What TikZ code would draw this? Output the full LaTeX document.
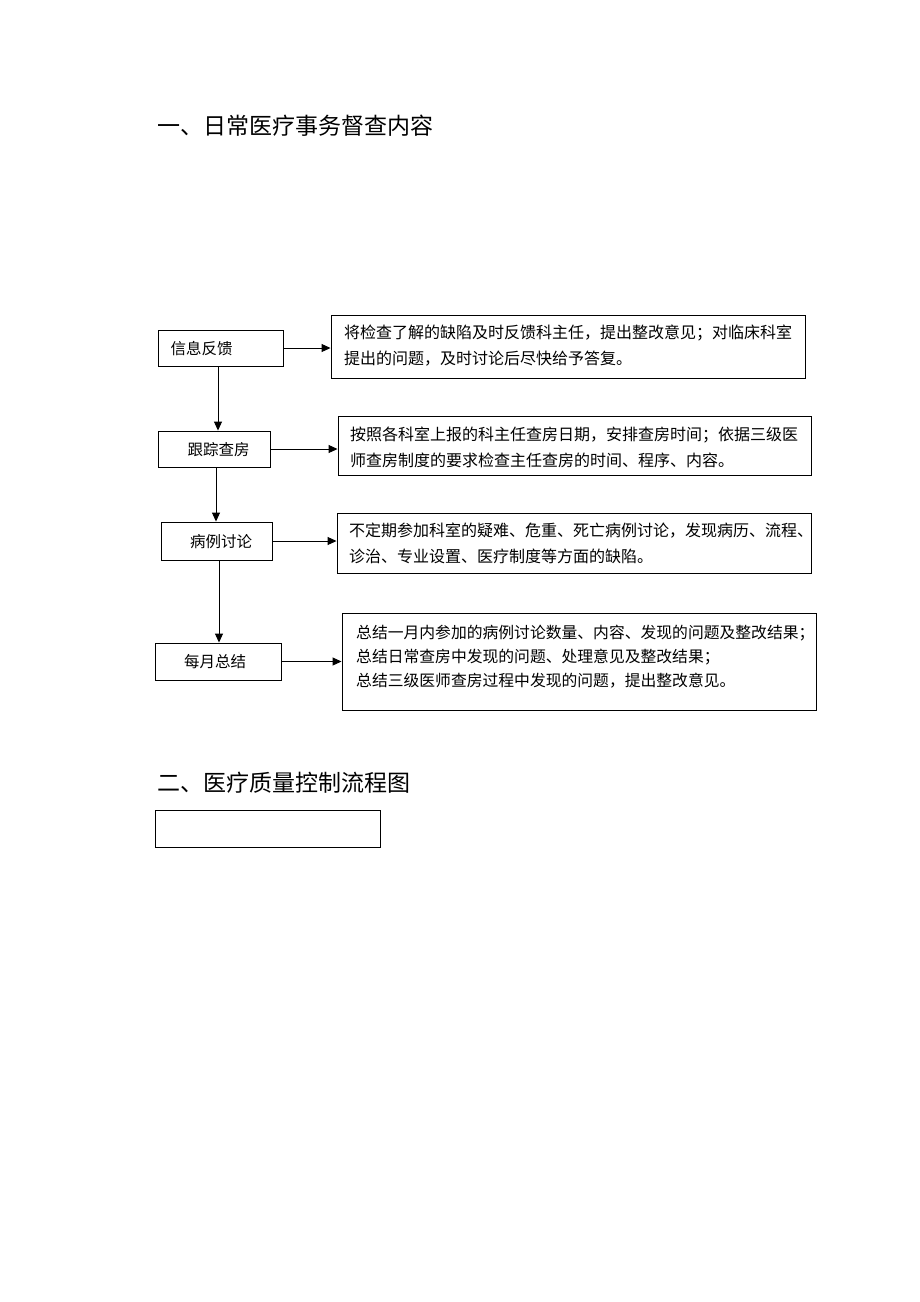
\documentclass[tikz,border=0pt]{standalone}
\usepackage{fontspec}
\setmainfont{Noto Sans CJK SC}
\usetikzlibrary{arrows.meta}
\begin{document}
\begin{tikzpicture}[x=1pt,y=-1pt,
  box/.style={draw, line width=0.9pt, inner sep=0pt},
  lbl/.style={font=\fontsize{15.5}{26}\selectfont, inner sep=0pt},
  txt/.style={font=\fontsize{16}{26}\selectfont, anchor=west, align=left, inner sep=0pt},
  ttl/.style={font=\fontsize{23}{28}\selectfont, anchor=west, inner sep=0pt},
  arr/.style={-{Triangle[length=9pt,width=8pt]}, line width=1pt}]
\useasboundingbox[fill=white] (0,0) rectangle (920,1302);

\node[ttl] (t1) at (157,126) {一、日常医疗事务督查内容};

% left boxes
\node[box, minimum width=125pt, minimum height=36pt] (b1) at (220.5,348) {};
\node[lbl] (l1) at (201.5,349) {信息反馈};
\node[box, minimum width=112pt, minimum height=36pt] (b2) at (214,449) {};
\node[lbl] (l2) at (218.5,450) {跟踪查房};
\node[box, minimum width=111pt, minimum height=38pt] (b3) at (216.5,541) {};
\node[lbl] (l3) at (221,542) {病例讨论};
\node[box, minimum width=126pt, minimum height=37pt] (b4) at (218,661.5) {};
\node[lbl] (l4) at (215,662) {每月总结};

% right boxes
\node[box, minimum width=474pt, minimum height=63pt] (r1) at (568,346.5) {};
\node[txt] (x1) at (344,346) {将检查了解的缺陷及时反馈科主任，提出整改意见；对临床科室\\提出的问题，及时讨论后尽快给予答复。};
\node[box, minimum width=473pt, minimum height=59pt] (r2) at (574.5,445.5) {};
\node[txt] (x2) at (350,447.5) {按照各科室上报的科主任查房日期，安排查房时间；依据三级医\\师查房制度的要求检查主任查房的时间、程序、内容。};
\node[box, minimum width=474pt, minimum height=60pt] (r3) at (574,543) {};
\node[txt] (x3) at (349,543) {不定期参加科室的疑难、危重、死亡病例讨论，发现病历、流程、\\诊治、专业设置、医疗制度等方面的缺陷。};
\node[box, minimum width=474pt, minimum height=97pt] (r4) at (579,661.5) {};
\node[txt, font=\fontsize{15.8}{24}\selectfont] (x4) at (356,657) {总结一月内参加的病例讨论数量、内容、发现的问题及整改结果；\\总结日常查房中发现的问题、处理意见及整改结果；\\总结三级医师查房过程中发现的问题，提出整改意见。};

% horizontal arrows
\draw[arr] (b1.east) -- (b1.east -| r1.west);
\draw[arr] (b2.east) -- (b2.east -| r2.west);
\draw[arr] (b3.east) -- (b3.east -| r3.west);
\draw[arr] (b4.east) -- (b4.east -| r4.west);

% vertical arrows
\draw[arr] (218,0 |- b1.south) -- (218,0 |- b2.north);
\draw[arr] (216,0 |- b2.south) -- (216,0 |- b3.north);
\draw[arr] (219,0 |- b3.south) -- (219,0 |- b4.north);

\node[ttl] (t2) at (157,783) {二、医疗质量控制流程图};
\node[box, minimum width=225pt, minimum height=37pt] (e1) at (267.5,828.5) {};
\end{tikzpicture}
\end{document}
